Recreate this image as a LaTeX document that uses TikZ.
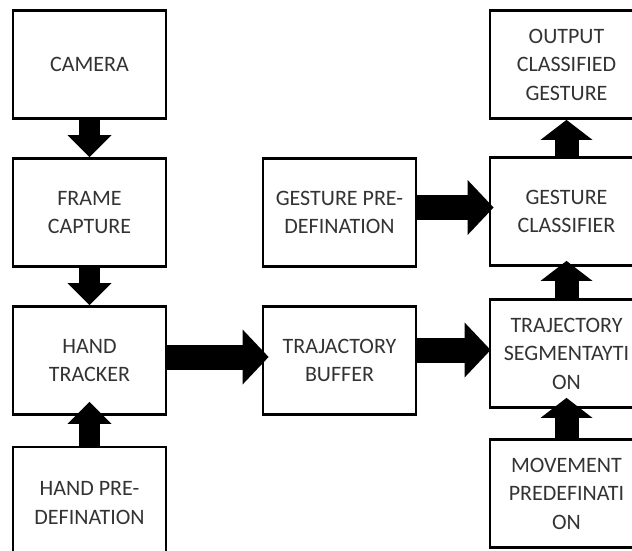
\documentclass[tikz,border=0pt]{standalone}
\usepackage{fontspec}
\setmainfont{Carlito}
\usetikzlibrary{positioning,arrows.meta}

\begin{document}
\begin{tikzpicture}[x=1pt,y=-1pt,
  stage/.style={draw,line width=2.8pt,minimum width=153pt,minimum height=108pt,align=center,inner sep=0pt,text=black!80,font=\fontsize{22}{28.5}\selectfont},
  thinflow/.style={line width=21pt,-{Triangle[length=22pt,width=44pt,line width=0pt]}},
  wideflow/.style={line width=25pt,-{Triangle[length=26pt,width=55pt,line width=0pt]}},
  upflow/.style={line width=24pt,-{Triangle[length=20pt,width=52pt,line width=0pt]}}]
  \useasboundingbox (0,0) rectangle (632,551);
  \clip (0,0) rectangle (632,551);
  \node[stage] (camera) at (89.5,64.5) {CAMERA};
  \node[stage] (frame) at (89.5,212.5) {FRAME\\CAPTURE};
  \node[stage] (hand) at (89.5,360.5) {HAND\\TRACKER};
  \node[stage,minimum height=112pt] (handpre) at (89.5,503) {HAND PRE-\\DEFINATION};
  \node[stage] (gestpre) at (339.5,212.5) {GESTURE PRE-\\DEFINATION};
  \node[stage] (buffer) at (339.5,360.5) {TRAJACTORY\\BUFFER};
  \node[stage] (output) at (566.5,64.5) {OUTPUT\\CLASSIFIED\\GESTURE};
  \node[stage] (classifier) at (566.5,211.5) {GESTURE\\CLASSIFIER};
  \node[stage] (segment) at (566.5,353.5) {TRAJECTORY\\SEGMENTAYTI\\ON};
  \node[stage] (movement) at (566.5,493.5) {MOVEMENT\\PREDEFINATI\\ON};
  \draw[thinflow] (camera) -- (frame);
  \draw[thinflow] (frame) -- (hand);
  \draw[thinflow,shorten >=-14pt] (handpre) -- (hand);
  \draw[wideflow,shorten >=-7pt] ([yshift=3.5pt]hand.east) -- ([yshift=3.5pt]buffer.west);
  \draw[wideflow,shorten >=-5pt] ([yshift=5pt]gestpre.east) -- ([yshift=4pt]classifier.west);
  \draw[wideflow,shorten >=-2pt] ([yshift=10.5pt]buffer.east) -- ([yshift=3.5pt]segment.west);
  \draw[upflow] (classifier) -- (output);
  \draw[upflow,shorten >=-6pt] (segment) -- (classifier);
  \draw[upflow,shorten >=-11pt] (movement) -- (segment);
\end{tikzpicture}
\end{document}
